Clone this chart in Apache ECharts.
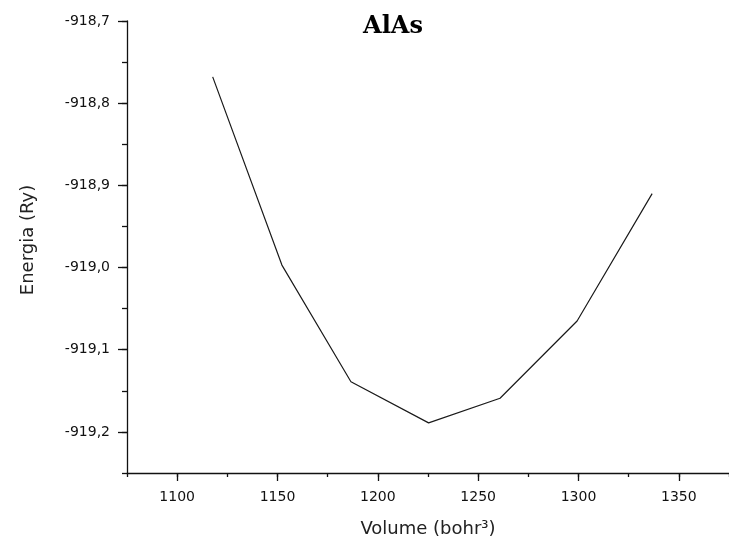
<!DOCTYPE html>
<html>
<head>
<meta charset="utf-8">
<script src="https://cdn.jsdelivr.net/npm/echarts@6/dist/echarts.min.js"></script>
<style>html,body{margin:0;padding:0;background:#fff}#c{width:729px;height:543px}</style>
</head>
<body>
<div id="c"></div>
<script>
const volume = [1117.7, 1152.2, 1186.6, 1225.3, 1260.9, 1299.3, 1336.7];
const energy = [-918.768, -918.997, -919.139, -919.189, -919.159, -919.065, -918.910];
const titleText = 'AlAs';
const xName = 'Volume (bohr³)';
const yName = 'Energia (Ry)';
const xRange = [1075, 1375];
const yRange = [-919.25, -918.7];

const chart = echarts.init(document.getElementById('c'));
const axisCol = '#111';
const labelFont = {fontFamily: 'DejaVu Sans', fontSize: 14, color: '#111'};
chart.setOption({
  animation: false,
  backgroundColor: '#fff',
  title: {
    text: titleText, left: 388, top: 10, textAlign: 'center',
    textStyle: {fontFamily: 'DejaVu Serif', fontWeight: 'bold', fontSize: 24, color: '#000'}
  },
  grid: {left: 127, top: 21, right: -7, bottom: 69, containLabel: false},
  xAxis: [{
    type: 'value', min: xRange[0], max: xRange[1], splitNumber: 6,
    name: xName, nameLocation: 'middle', nameGap: 47,
    nameTextStyle: {fontFamily: 'DejaVu Sans', fontSize: 18, color: '#222'},
    axisLine: {show: true, lineStyle: {color: axisCol, width: 1.3}},
    axisTick: {show: true, inside: false, length: 8, lineStyle: {color: axisCol, width: 1.3}},
    axisLabel: Object.assign({margin: 17, showMinLabel: false, showMaxLabel: false,
      formatter: v => (v % 50 === 0 ? String(v) : '')}, labelFont),
    splitLine: {show: false}
  }, {
    type: 'value', min: xRange[0], max: xRange[1], interval: 25, position: 'bottom',
    axisLine: {show: false},
    axisTick: {show: true, inside: false, length: 4, lineStyle: {color: axisCol, width: 1.3}},
    axisLabel: {show: false}, splitLine: {show: false}
  }],
  yAxis: [{
    type: 'value', min: yRange[0], max: yRange[1], splitNumber: 5,
    name: yName, nameLocation: 'middle', nameGap: 90, nameRotate: 90,
    nameTextStyle: {fontFamily: 'DejaVu Sans', fontSize: 18, color: '#222', padding: [0, 0, 0, 14]},
    axisLine: {show: true, lineStyle: {color: axisCol, width: 1.3}},
    axisTick: {show: true, inside: false, length: 9, lineStyle: {color: axisCol, width: 1.3}},
    axisLabel: Object.assign({margin: 17, showMinLabel: false,
      formatter: v => {
        const r = Math.round(v * 10) / 10;
        if (Math.abs(r - v) > 1e-6) return '';
        return r.toFixed(1).replace('.', ',');
      }}, labelFont),
    splitLine: {show: false}
  }, {
    type: 'value', min: yRange[0], max: yRange[1], interval: 0.05, position: 'left',
    axisLine: {show: false},
    axisTick: {show: true, inside: false, length: 5, lineStyle: {color: axisCol, width: 1.3}},
    axisLabel: {show: false}, splitLine: {show: false}
  }],
  series: [{
    type: 'line', xAxisIndex: 0, yAxisIndex: 0,
    data: volume.map((v, i) => [v, energy[i]]),
    showSymbol: false, symbol: 'none', smooth: false,
    lineStyle: {color: '#1a1a1a', width: 1.2}
  }]
});
</script>
</body>
</html>
